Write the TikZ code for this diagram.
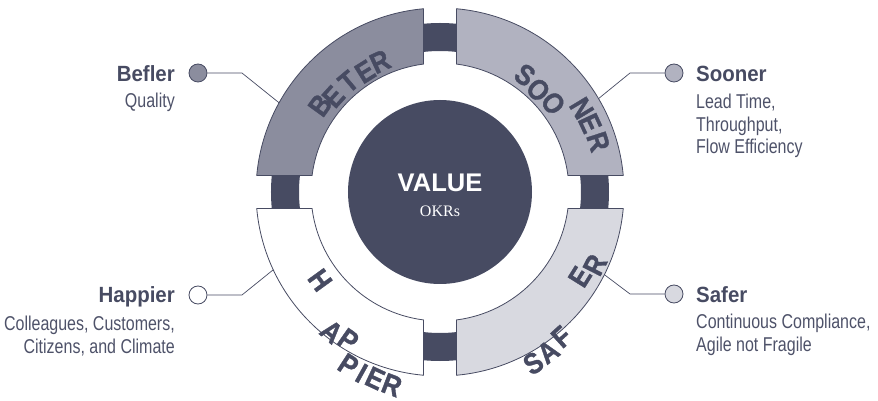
\documentclass[tikz,border=0pt]{standalone}
\usepackage{fontspec}
\setmainfont{Liberation Sans}
\newfontfamily\narrowfont[FakeStretch=0.8]{Liberation Sans}
\newfontfamily\headfont[FakeStretch=0.93]{Liberation Sans}
\newfontfamily\ringfont[FakeStretch=0.88, BoldFeatures={FakeBold=1.2}]{Liberation Sans}
\newfontfamily\okrfont{Liberation Serif}
\usetikzlibrary{positioning}
\definecolor{navy}{RGB}{71,75,98}
\definecolor{subtext}{RGB}{78,82,105}
\definecolor{betterfill}{RGB}{139,141,158}
\definecolor{soonerfill}{RGB}{177,178,192}
\definecolor{saferfill}{RGB}{216,217,224}
\definecolor{happierfill}{RGB}{255,255,255}

\begin{document}
\begin{tikzpicture}[x=1pt, y=1pt,
		segment/.style={draw=navy, line width=0.8pt},
		seglet/.style={text=navy, inner sep=0pt, font=\ringfont\bfseries\fontsize{29}{29}\selectfont},
		dot/.style={circle, draw=navy, line width=0.8pt, minimum size=18pt, inner sep=0pt},
		wire/.style={draw=navy, line width=0.7pt},
		title/.style={text=navy, inner sep=0pt, font=\headfont\bfseries\fontsize{22}{22}\selectfont},
		sub/.style={text=subtext, inner sep=0pt, font=\narrowfont\fontsize{20}{22.5}\selectfont}]
	\useasboundingbox (-440,-209) rectangle (438,192);

	% dark ring, only seen in the gaps
	\draw[navy, line width=28pt] (0,0) circle[radius=155];

	% four ring segments, cut straight at the gaps
	\foreach \a/\col in {90/betterfill, 0/soonerfill, 270/saferfill, 180/happierfill}
		\draw[segment, fill=\col] (\a+5.15:184) arc[start angle=\a+5.15, end angle=\a+84.85, radius=184]
			-- (\a+82.65:129) arc[start angle=\a+82.65, end angle=\a+7.35, radius=129] -- cycle;

	\node[circle, fill=navy, minimum size=184pt, inner sep=0pt] (value) at (0,0) {};
	\node[anchor=base, text=white, inner sep=0pt, font=\bfseries\fontsize{25.5}{26}\selectfont] (valuetxt) at (0,0) {VALUE};
	\node[anchor=base, text=white, inner sep=0pt, font=\okrfont\fontsize{16}{16}\selectfont] (okrs) at (0,-25) {OKRs};

	% letters along the segments
	\foreach \ang/\rad/\rot/\ch [count=\k] in {144.1/148/54/B, 138.2/143/48/E, 129.7/143.4/40/T, 121.9/141.8/32/E, 114.7/143.5/25/R}
		\node[seglet, rotate=\rot] (bet\k) at (\ang:\rad) {\ch};
	\foreach \ang/\rad/\rot/\ch [count=\k] in {54/144.6/-36/S, 46.1/141.7/-44/O, 38.1/143.9/-52/O, 30.6/164.6/-59/N, 24.6/165/-65/E, 17.6/166.1/-72/R}
		\node[seglet, rotate=\rot] (soon\k) at (\ang:\rad) {\ch};
	\foreach \ang/\rad/\rot/\ch [count=\k] in {216.3/148.8/-54/H, 232.2/176.8/-40/A, 238.2/174.1/-35/P, 242.1/195.8/-33/P, 246.6/197.5/-29/I, 250.8/197.3/-25/E, 256/199/-21/R}
		\node[seglet, rotate=\rot] (hap\k) at (\ang:\rad) {\ch};
	\foreach \ang/\rad/\rot/\ch [count=\k] in {298.6/195/33/S, 304.1/193/37/A, 310/189/42/F, 328.8/163.6/58/E, 334.8/171.3/63/R}
		\node[seglet, rotate=\rot] (saf\k) at (\ang:\rad) {\ch};

	% callouts
	\node[dot, fill=betterfill] (befdot) at (-242,119) {};
	\node[dot, fill=soonerfill] (soondot) at (234,119) {};
	\node[dot, fill=happierfill] (hapdot) at (-242,-103) {};
	\node[dot, fill=saferfill] (safdot) at (234,-102) {};
	\coordinate (befbend) at (-198,119);
	\coordinate (soonbend) at (190,119);
	\coordinate (hapbend) at (-198,-103);
	\coordinate (safbend) at (190,-102);
	\coordinate (befend) at (151:184);
	\coordinate (soonend) at (30.5:184);
	\coordinate (hapend) at (205:184);
	\coordinate (safend) at (-26.7:184);
	\draw[wire] (befdot) -- (befbend) -- (befend);
	\draw[wire] (soondot) -- (soonbend) -- (soonend);
	\draw[wire] (hapdot) -- (hapbend) -- (hapend);
	\draw[wire] (safdot) -- (safbend) -- (safend);

	% base of a block is its last line
	\node[title, anchor=base east] (befler) at (-265,110) {Befler};
	\node[sub, anchor=base east, align=right] (quality) at (-265,84.5) {Quality};
	\node[title, anchor=base west] (sooner) at (256,110) {Sooner};
	\node[sub, anchor=base west, align=left] (leadtime) at (256,38) {Lead Time,\\Throughput,\\Flow Efficiency};
	\node[title, anchor=base east] (happier) at (-265,-111) {Happier};
	\node[sub, anchor=base east, align=right] (colleagues) at (-265,-161) {Colleagues, Customers,\\Citizens, and Climate};
	\node[title, anchor=base west] (safer) at (256,-111) {Safer};
	\node[sub, anchor=base west, align=left] (compliance) at (256,-159) {Continuous Compliance,\\Agile not Fragile};
\end{tikzpicture}
\end{document}
